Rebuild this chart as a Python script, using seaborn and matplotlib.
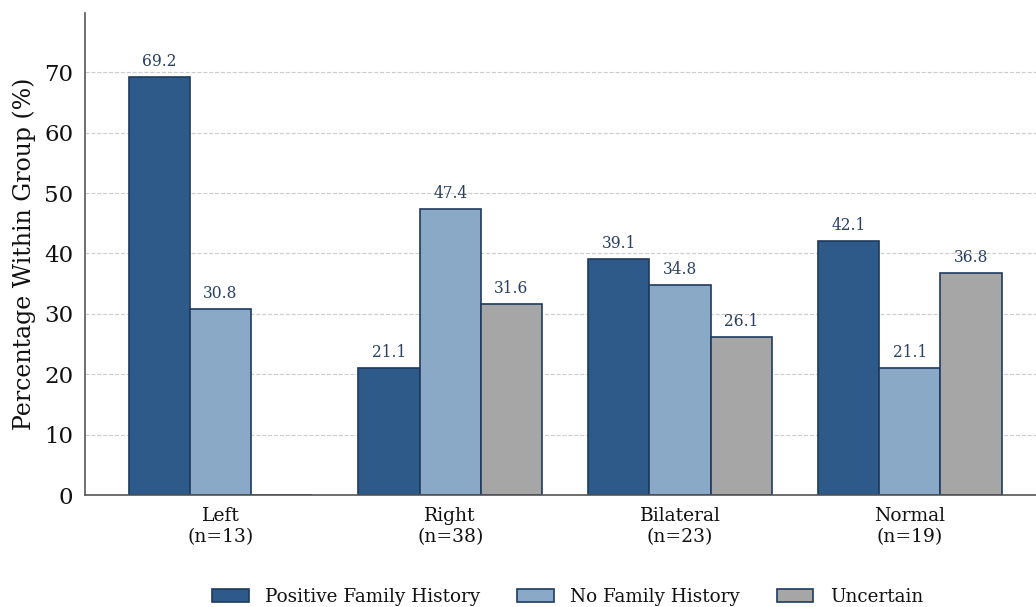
import glob
import os
import numpy as np
import pandas as pd
import matplotlib
matplotlib.use("Agg")
import matplotlib.pyplot as plt
from matplotlib import font_manager
import seaborn as sns

# Lesion side groups and their sample sizes
groups = ["Left", "Right", "Bilateral", "Normal"]
group_n = [13, 38, 23, 19]

# Family-history categories and percentage within each group
history = ["Positive Family History", "No Family History", "Uncertain"]
positive_pct = [69.2, 21.1, 39.1, 42.1]
no_history_pct = [30.8, 47.4, 34.8, 21.1]
uncertain_pct = [0.0, 31.6, 26.1, 36.8]

palette = ["#2d5a88", "#8aa9c6", "#a6a6a6"]
edge_col = "#1f3a5f"

# Register DejaVu Serif wherever it is found on the system
font_dirs = [os.path.join(matplotlib.get_data_path(), "fonts", "ttf"),
             "/usr/share/fonts", "/usr/local/share/fonts"]
for d in font_dirs:
    for f in glob.glob(os.path.join(d, "**", "DejaVuSerif*.ttf"), recursive=True):
        font_manager.fontManager.addfont(f)

sns.set_style("white")
plt.rcParams["font.family"] = "serif"
plt.rcParams["font.serif"] = ["DejaVu Serif", "Bitstream Vera Serif"]
plt.rcParams["text.color"] = "#111111"
plt.rcParams["axes.labelcolor"] = "#111111"
plt.rcParams["xtick.labelcolor"] = "#111111"
plt.rcParams["ytick.labelcolor"] = "#111111"

group_labels = [f"{g}\n(n={n})" for g, n in zip(groups, group_n)]
df = pd.DataFrame({
    "group": group_labels * 3,
    "history": np.repeat(history, len(groups)).tolist(),
    "pct": positive_pct + no_history_pct + uncertain_pct,
})

fig = plt.figure(figsize=(10.36, 6.07), dpi=100)
ax = fig.add_axes([0.082, 0.1845, 0.918, 0.794])

sns.barplot(data=df, x="group", y="pct", hue="history", hue_order=history,
            order=group_labels, palette=palette, width=0.8, ax=ax,
            edgecolor=edge_col, linewidth=1.2, saturation=1, errorbar=None)

# Value labels above each non-empty bar
for container in ax.containers:
    for bar in container:
        h = bar.get_height()
        if h > 0:
            ax.annotate(f"{h:.1f}", (bar.get_x() + bar.get_width() / 2, h),
                        xytext=(0, 5), textcoords="offset points",
                        ha="center", va="bottom", fontsize=11.2,
                        color="#2b3f5e")

ax.set_ylim(0, 79.8)
ax.set_xlim(-0.59, 3.55)
ax.set_yticks(range(0, 80, 10))
ax.set_xlabel("")
ax.set_ylabel("Percentage Within Group (%)", fontsize=17, labelpad=6)
ax.tick_params(axis="y", labelsize=16.5, length=5, color="#444444")
ax.tick_params(axis="x", labelsize=13.5, length=5, color="#444444")
ax.yaxis.grid(True, linestyle="--", color="#cccccc", linewidth=0.8)
ax.set_axisbelow(True)
for side in ["top", "right"]:
    ax.spines[side].set_visible(False)
for side in ["left", "bottom"]:
    ax.spines[side].set_color("#555555")
    ax.spines[side].set_linewidth(1.2)

handles, labels = ax.get_legend_handles_labels()
ax.legend_.remove()
fig.legend(handles, labels, loc="center", bbox_to_anchor=(0.548, 1 - 597 / 607),
           ncol=3, frameon=False, fontsize=13.2, handlelength=2.0,
           handletextpad=0.9, columnspacing=2.0, borderaxespad=0)

fig.savefig("out.png", dpi=100)
